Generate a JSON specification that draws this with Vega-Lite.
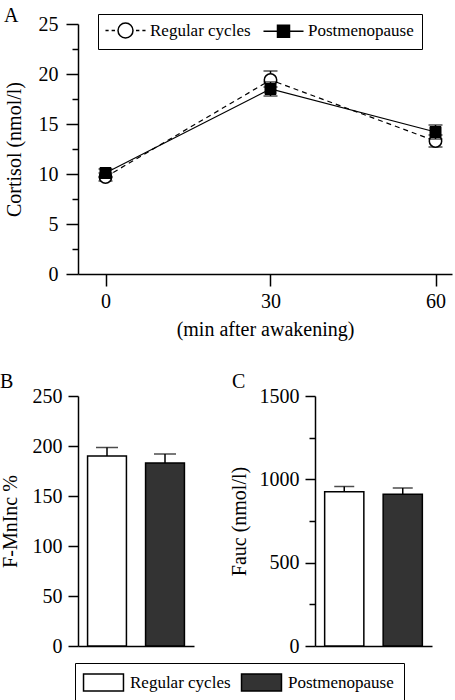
{
  "$schema": "https://vega.github.io/schema/vega-lite/v6.json",
  "padding": {"left": 0, "top": 6, "right": 0, "bottom": 0},
  "background": "white",
  "config": {
    "view": {"stroke": null},
    "font": "Liberation Serif",
    "axis": {
      "labelFont": "Liberation Serif", "titleFont": "Liberation Serif",
      "labelFontSize": 20, "titleFontSize": 20,
      "labelColor": "black", "titleColor": "black", "titleFontWeight": "normal",
      "domainColor": "black", "tickColor": "black", "domainWidth": 1.5, "tickWidth": 1.5,
      "grid": false
    },
    "legend": {"labelFont": "Liberation Serif", "labelFontSize": 17, "labelColor": "black"},
    "title": {"font": "Liberation Serif", "fontSize": 20, "fontWeight": "normal", "color": "black", "anchor": "start"}
  },
  "datasets": {
    "cortisol": [
      {"minute": 0, "group": "Regular cycles", "mean": 9.7, "lo": 9.3, "hi": 10.1},
      {"minute": 30, "group": "Regular cycles", "mean": 19.4, "lo": 18.7, "hi": 20.3},
      {"minute": 60, "group": "Regular cycles", "mean": 13.3, "lo": 12.7, "hi": 13.9},
      {"minute": 0, "group": "Postmenopause", "mean": 10.1, "lo": 9.7, "hi": 10.5},
      {"minute": 30, "group": "Postmenopause", "mean": 18.5, "lo": 17.8, "hi": 19.2},
      {"minute": 60, "group": "Postmenopause", "mean": 14.2, "lo": 13.5, "hi": 14.9}
    ],
    "fmninc": [
      {"group": "Regular cycles", "value": 190, "hi": 198.5},
      {"group": "Postmenopause", "value": 183, "hi": 192}
    ],
    "fauc": [
      {"group": "Regular cycles", "value": 926, "hi": 957},
      {"group": "Postmenopause", "value": 910, "hi": 948}
    ]
  },
  "bounds": "flush",
  "spacing": 122,
  "resolve": {"scale": {"fill": "independent"}, "legend": {"fill": "independent"}},
  "vconcat": [
    {
      "width": 374,
      "height": 250,
      "title": {"text": "A", "offset": -12},
      "data": {"name": "cortisol"},
      "encoding": {
        "x": {
          "field": "minute", "type": "quantitative",
          "scale": {"domain": [-5, 63], "nice": false, "zero": false},
          "axis": {"values": [0, 30, 60], "tickSize": 12, "labelPadding": 5, "labelFlush": false, "title": "(min after awakening)", "titlePadding": 8}
        },
        "y": {
          "field": "mean", "type": "quantitative",
          "scale": {"domain": [0, 25], "nice": false},
          "axis": {
            "values": [0, 2.5, 5, 7.5, 10, 12.5, 15, 17.5, 20, 22.5, 25],
            "format": "d",
            "labelExpr": "datum.value % 5 === 0 ? datum.label : ''",
            "tickSize": {"condition": {"test": "datum.value % 5 === 0", "value": 12}, "value": 6},
            "labelPadding": 8,
            "title": "Cortisol (nmol/l)",
            "titlePadding": 14
          }
        }
      },
      "layer": [
        {
          "transform": [{"filter": "datum.group === 'Regular cycles'"}],
          "mark": {"type": "line", "stroke": "black", "strokeWidth": 1.2, "strokeDash": [5, 4]}
        },
        {
          "transform": [{"filter": "datum.group === 'Postmenopause'"}],
          "mark": {"type": "line", "stroke": "black", "strokeWidth": 1.2}
        },
        {
          "transform": [{"filter": "datum.group === 'Regular cycles'"}],
          "mark": {"type": "rule", "color": "black", "strokeWidth": 1.5},
          "encoding": {"y": {"field": "lo", "type": "quantitative"}, "y2": {"field": "hi"}}
        },
        {
          "transform": [{"filter": "datum.group === 'Regular cycles'"}],
          "mark": {"type": "tick", "orient": "horizontal", "color": "black", "thickness": 1.5, "size": 14},
          "encoding": {"y": {"field": "hi", "type": "quantitative"}}
        },
        {
          "transform": [{"filter": "datum.group === 'Regular cycles'"}],
          "mark": {"type": "tick", "orient": "horizontal", "color": "black", "thickness": 1.5, "size": 14},
          "encoding": {"y": {"field": "lo", "type": "quantitative"}}
        },
        {
          "transform": [{"filter": "datum.group === 'Regular cycles'"}],
          "mark": {"type": "point", "shape": "circle", "size": 154, "filled": true, "fill": "white", "stroke": "black", "strokeWidth": 1.5, "opacity": 1}
        },
        {
          "transform": [{"filter": "datum.group === 'Postmenopause'"}],
          "mark": {"type": "rule", "color": "black", "strokeWidth": 1.5},
          "encoding": {"y": {"field": "lo", "type": "quantitative"}, "y2": {"field": "hi"}}
        },
        {
          "transform": [{"filter": "datum.group === 'Postmenopause'"}],
          "mark": {"type": "tick", "orient": "horizontal", "color": "black", "thickness": 1.5, "size": 14},
          "encoding": {"y": {"field": "hi", "type": "quantitative"}}
        },
        {
          "transform": [{"filter": "datum.group === 'Postmenopause'"}],
          "mark": {"type": "tick", "orient": "horizontal", "color": "black", "thickness": 1.5, "size": 14},
          "encoding": {"y": {"field": "lo", "type": "quantitative"}}
        },
        {
          "transform": [{"filter": "datum.group === 'Postmenopause'"}],
          "mark": {"type": "point", "shape": "square", "size": 121, "filled": true, "fill": "black", "stroke": "black", "strokeWidth": 1, "opacity": 1}
        },
        {
          "mark": {"type": "point", "opacity": 0, "filled": false, "stroke": "black", "strokeWidth": 1.5, "size": 225},
          "encoding": {
            "shape": {
              "field": "group", "type": "nominal",
              "scale": {
                "domain": ["Regular cycles", "Postmenopause"],
                "range": [
                  "M-2.67,0L-2.25,0M-1.85,0L-1.4,0M1.4,0L1.85,0M2.25,0L2.67,0M-1,0A1,1,0,1,0,1,0A1,1,0,1,0,-1,0Z",
                  "M-2.67,0L2.67,0M-0.8,-0.8L0.8,-0.8L0.8,-0.6L-0.8,-0.6L-0.8,-0.4L0.8,-0.4L0.8,-0.2L-0.8,-0.2L-0.8,0L0.8,0L0.8,0.2L-0.8,0.2L-0.8,0.4L0.8,0.4L0.8,0.6L-0.8,0.6L-0.8,0.8L0.8,0.8L0.8,-0.8L-0.8,-0.8L-0.8,0.8L0.8,0.8"
                ]
              },
              "legend": {
                "title": null, "orient": "none", "legendX": 20, "legendY": -10, "direction": "horizontal",
                "strokeColor": "black", "padding": 8, "symbolSize": 225, "symbolOpacity": 1, "symbolOffset": 11,
                "symbolStrokeColor": "black", "symbolStrokeWidth": 1.5, "labelOffset": 16, "columnPadding": 9, "labelFontSize": 17
              }
            }
          }
        }
      ]
    },
    {
      "bounds": "flush",
      "spacing": 121,
      "hconcat": [
        {
          "width": 116,
          "height": 250,
          "title": {"text": "B", "offset": -6},
          "data": {"name": "fmninc"},
          "encoding": {
            "x": {
              "field": "group", "type": "nominal", "sort": ["Regular cycles", "Postmenopause"],
              "scale": {"paddingInner": 0.33, "paddingOuter": 0.165},
              "axis": {"labels": false, "ticks": false, "title": null}
            }
          },
          "layer": [
            {
              "mark": {"type": "bar", "stroke": "black", "strokeWidth": 1.5},
              "encoding": {
                "y": {
                  "field": "value", "type": "quantitative",
                  "scale": {"domain": [0, 250], "nice": false},
                  "axis": {
                    "values": [0, 25, 50, 75, 100, 125, 150, 175, 200, 225, 250],
                    "format": "d",
                    "labelExpr": "datum.value % 50 === 0 ? datum.label : ''",
                    "tickSize": {"condition": {"test": "datum.value % 50 === 0", "value": 10}, "value": 6},
                    "labelPadding": 6,
                    "title": "F-MnInc %",
                    "titlePadding": 12
                  }
                },
                "fill": {
                  "field": "group", "type": "nominal",
                  "scale": {"domain": ["Regular cycles", "Postmenopause"], "range": ["white", "#333333"]},
                  "legend": {"title": null, "orient": "none", "legendX": -3, "legendY": 267, "direction": "horizontal", "strokeColor": "black", "padding": 10, "symbolType": "M-2.35,-1L2.35,-1L2.35,1L-2.35,1Z", "symbolSize": 289, "symbolOffset": 9, "symbolStrokeColor": "black", "symbolStrokeWidth": 1.5, "labelOffset": 17, "columnPadding": 7, "labelFontSize": 17}
                }
              }
            },
            {
              "mark": {"type": "rule", "color": "black", "strokeWidth": 1.5},
              "encoding": {"y": {"field": "value", "type": "quantitative"}, "y2": {"field": "hi"}}
            },
            {
              "mark": {"type": "tick", "color": "black", "thickness": 1.5, "size": 22},
              "encoding": {"y": {"field": "hi", "type": "quantitative"}}
            }
          ]
        },
        {
          "width": 117,
          "height": 250,
          "title": {"text": "C", "offset": -6, "dx": 3},
          "data": {"name": "fauc"},
          "encoding": {
            "x": {
              "field": "group", "type": "nominal", "sort": ["Regular cycles", "Postmenopause"],
              "scale": {"paddingInner": 0.33, "paddingOuter": 0.165},
              "axis": {"labels": false, "ticks": false, "title": null}
            }
          },
          "layer": [
            {
              "mark": {"type": "bar", "stroke": "black", "strokeWidth": 1.5},
              "encoding": {
                "y": {
                  "field": "value", "type": "quantitative",
                  "scale": {"domain": [0, 1500], "nice": false},
                  "axis": {
                    "values": [0, 250, 500, 750, 1000, 1250, 1500],
                    "format": "d",
                    "labelExpr": "datum.value % 500 === 0 ? datum.label : ''",
                    "tickSize": {"condition": {"test": "datum.value % 500 === 0", "value": 10}, "value": 6},
                    "labelPadding": 6,
                    "title": "Fauc (nmol/l)",
                    "titlePadding": 10
                  }
                },
                "fill": {
                  "field": "group", "type": "nominal",
                  "scale": {"domain": ["Regular cycles", "Postmenopause"], "range": ["white", "#333333"]},
                  "legend": {"title": null, "orient": "none", "legendX": -3, "legendY": 267, "direction": "horizontal", "strokeColor": "black", "padding": 10, "symbolType": "M-2.35,-1L2.35,-1L2.35,1L-2.35,1Z", "symbolSize": 289, "symbolOffset": 9, "symbolStrokeColor": "black", "symbolStrokeWidth": 1.5, "labelOffset": 17, "columnPadding": 7, "labelFontSize": 17}
                }
              }
            },
            {
              "mark": {"type": "rule", "color": "black", "strokeWidth": 1.5},
              "encoding": {"y": {"field": "value", "type": "quantitative"}, "y2": {"field": "hi"}}
            },
            {
              "mark": {"type": "tick", "color": "black", "thickness": 1.5, "size": 20},
              "encoding": {"y": {"field": "hi", "type": "quantitative"}}
            }
          ]
        }
      ]
    }
  ]
}
